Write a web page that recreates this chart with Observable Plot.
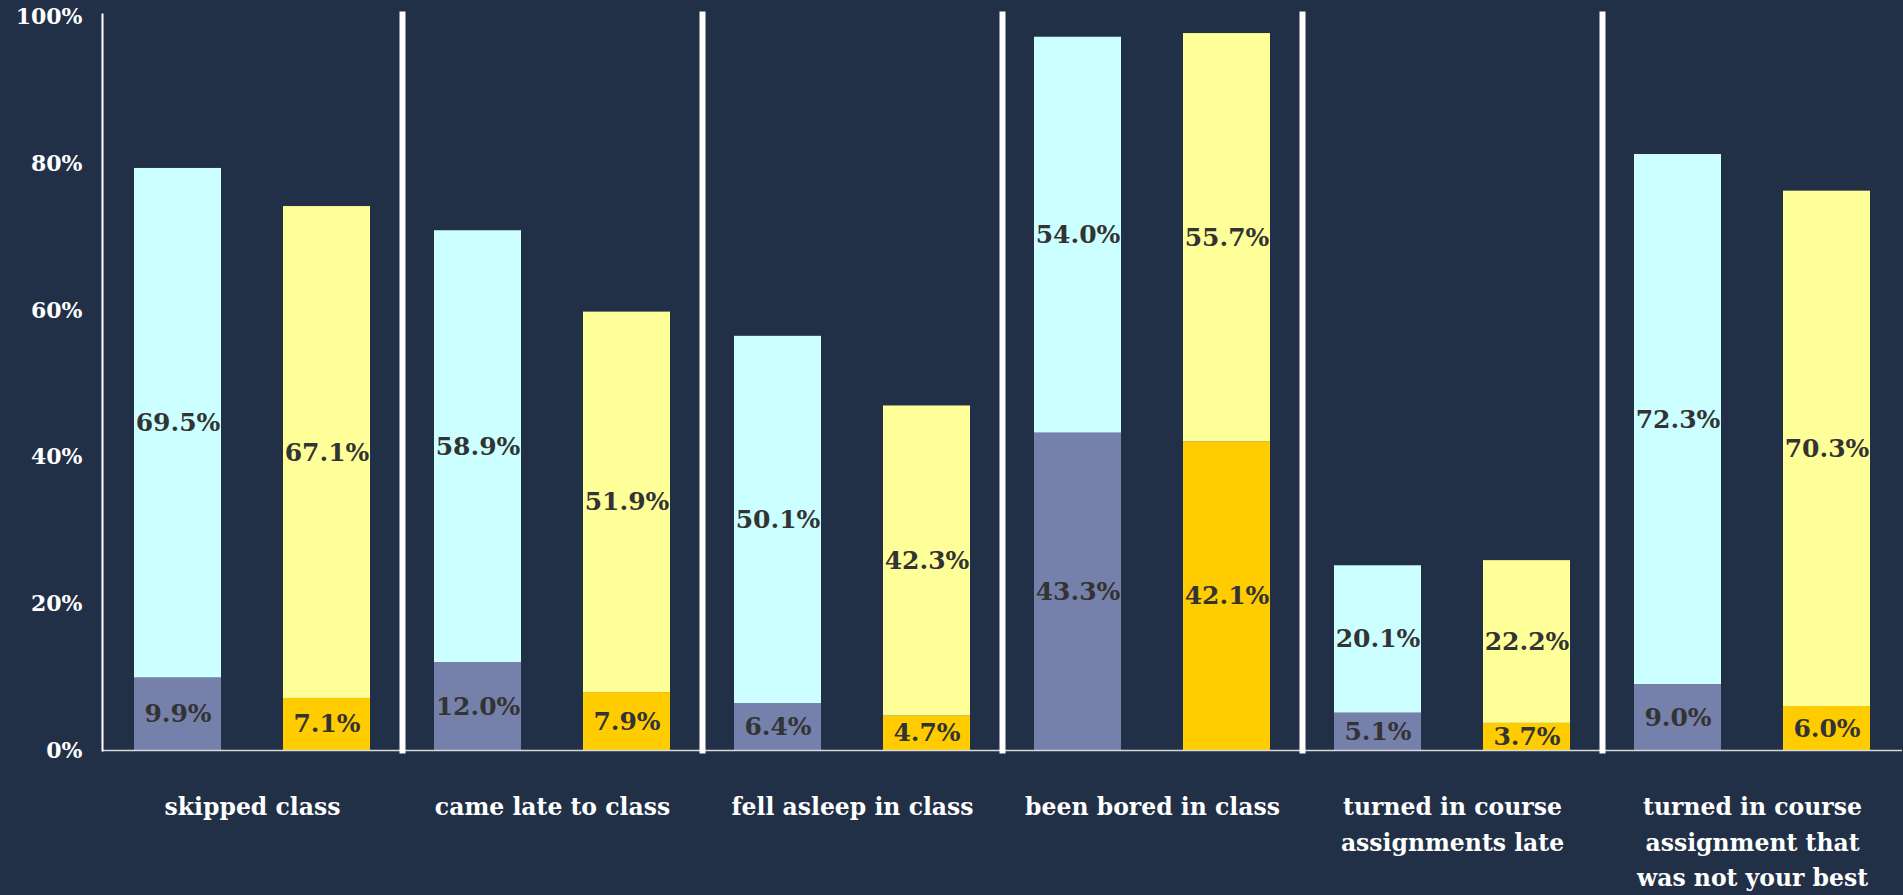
<!DOCTYPE html>
<html><head><meta charset="utf-8">
<script src="https://cdn.jsdelivr.net/npm/d3@7"></script>
<script src="https://cdn.jsdelivr.net/npm/@observablehq/plot@0.6"></script>
<style>
html,body{margin:0;padding:0;background:#213047;overflow:hidden;}
</style></head><body><div id="chart"></div>
<script>
const categories = ["skipped class","came late to class","fell asleep in class","been bored in class","turned in course assignments late","turned in course assignment that was not your best"];
const categoryLabels = ["skipped class","came late to class","fell asleep in class","been bored in class","turned in course\nassignments late","turned in course\nassignment that\nwas not your best"];
const groups = ["A","B"];
const baseA = [9.9, 12.0, 6.4, 43.3, 5.1, 9.0];
const topA  = [69.5, 58.9, 50.1, 54.0, 20.1, 72.3];
const baseB = [7.1, 7.9, 4.7, 42.1, 3.7, 6.0];
const topB  = [67.1, 51.9, 42.3, 55.7, 22.2, 70.3];
const yTicks = [0, 20, 40, 60, 80, 100];

const rows = [];
categories.forEach((c, i) => {
  rows.push({category: c, group: "A", layer: "A-base", value: baseA[i]});
  rows.push({category: c, group: "A", layer: "A-top", value: topA[i]});
  rows.push({category: c, group: "B", layer: "B-base", value: baseB[i]});
  rows.push({category: c, group: "B", layer: "B-top", value: topB[i]});
});
const labelOf = new Map(categories.map((c, i) => [c, categoryLabels[i]]));

const font = "'DejaVu Serif', 'Liberation Serif', serif";

const chart = Plot.plot({
  width: 1903, height: 895,
  marginLeft: 100, marginRight: 0, marginTop: 14, marginBottom: 145,
  style: {background: "#213047", fontFamily: font},
  fx: {domain: categories, padding: 0, label: null, axis: null},
  x: {domain: groups, paddingInner: 0.413, paddingOuter: 0.21, axis: null},
  y: {domain: [0, 100.4], axis: null, label: null},
  color: {domain: ["A-base","A-top","B-base","B-top"], range: ["#7580AB","#CCFFFF","#FFCC00","#FFFF99"]},
  marks: [
    Plot.barY(rows, Plot.stackY({fx: "category", x: "group", y: "value", z: "layer", fill: "layer"})),
    Plot.text(rows, Plot.stackY({fx: "category", x: "group", y: "value", z: "layer",
      text: d => d.value.toFixed(1) + "%", fill: "#333333", fontSize: 25, fontWeight: "bold"})),
    Plot.ruleY([0], {stroke: "#d9d9d9", strokeWidth: 1.5}),
    Plot.frame({anchor: "left", stroke: "white", strokeWidth: 2, fx: categories[0]}),
    ...categories.slice(1).map(c => Plot.frame({anchor: "left", stroke: "white", strokeWidth: 6, fx: c})),
    Plot.axisY(yTicks, {tickSize: 0, tickPadding: 20, label: null, tickFormat: d => d + "%", fill: "white", fontSize: 22, fontWeight: "bold"}),
    Plot.axisFx({anchor: "bottom", tickSize: 0, tickPadding: 39, label: null, tickFormat: d => labelOf.get(d),
      fill: "white", fontSize: 23.5, lineHeight: 1.52, fontWeight: "bold"})
  ]
});
document.getElementById("chart").appendChild(chart);
</script>
</body></html>
